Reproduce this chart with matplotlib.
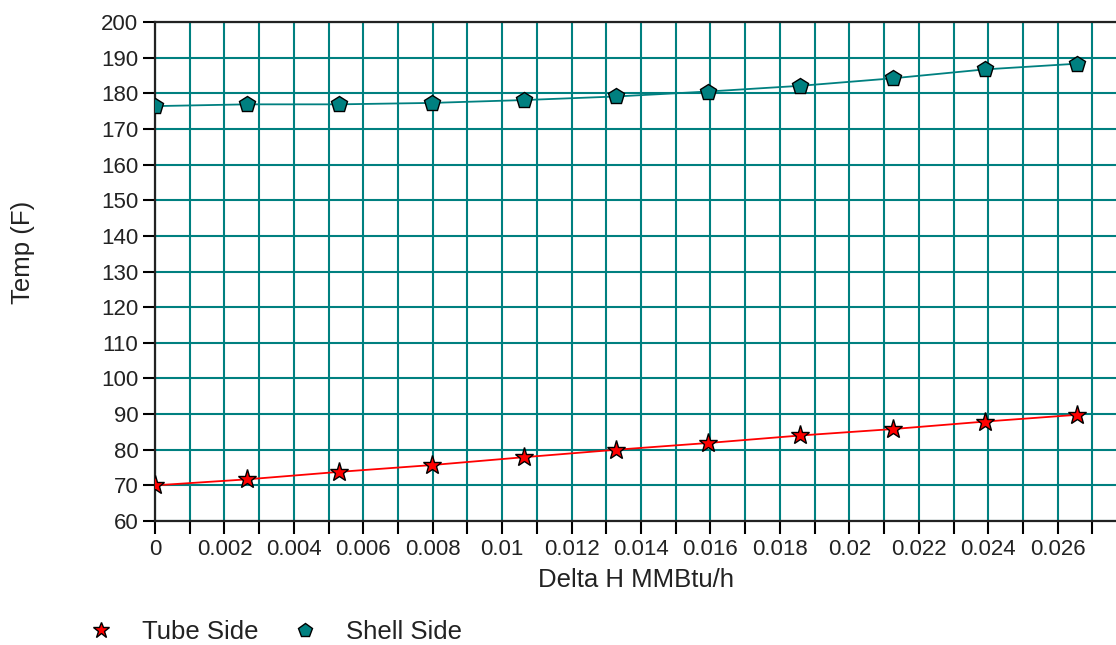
import matplotlib.pyplot as plt
from matplotlib.ticker import MultipleLocator, FuncFormatter
from matplotlib.lines import Line2D

plt.rcParams['font.family'] = ['Liberation Sans', 'DejaVu Sans']

TEAL = "#008080"

# heat duty steps along the exchanger (MMBtu/h)
delta_h = [0.0, 0.00266, 0.00531, 0.00797, 0.01062, 0.01328,
           0.01594, 0.01859, 0.02125, 0.02390, 0.02656]
tube_temp = [70.0, 71.7, 73.8, 75.7, 77.9, 80.0, 81.9, 84.0, 85.8, 87.9, 89.8]
shell_temp = [176.4, 176.9, 176.9, 177.3, 178.1, 179.1, 180.5, 182.1, 184.2, 186.7, 188.3]

x_label = "Delta H MMBtu/h"
y_label = "Temp (F)"
series_names = ["Tube Side", "Shell Side"]


def tick_fmt(v, pos):
    if abs(v) < 1e-12:
        return "0"
    return ("%.3f" % v).rstrip("0")


def main():
    fig = plt.figure(figsize=(11.16, 6.45), dpi=100)
    ax = fig.add_axes([0.1389, 0.1922, 0.8611, 0.7737])

    ax.plot(delta_h, tube_temp, color="#ff0000", lw=1.3, zorder=3)
    ax.plot(delta_h, tube_temp, ls="none", marker="*", ms=14,
            mfc="#ff0000", mec="black", mew=1.0, zorder=4)
    ax.plot(delta_h, shell_temp, color=TEAL, lw=1.3, zorder=3)
    ax.plot(delta_h, shell_temp, ls="none", marker="p", ms=12,
            mfc=TEAL, mec="black", mew=1.0, zorder=4)

    ax.set_xlim(0, 0.02768)
    ax.set_ylim(60, 200)
    ax.xaxis.set_major_locator(MultipleLocator(0.002))
    ax.xaxis.set_minor_locator(MultipleLocator(0.001))
    ax.xaxis.set_major_formatter(FuncFormatter(tick_fmt))
    ax.yaxis.set_major_locator(MultipleLocator(10))

    ax.grid(True, which="both", color=TEAL, lw=1.5, zorder=1)
    ax.set_axisbelow(True)
    ax.tick_params(which="both", direction="out", length=9, width=1.5,
                   color="black", labelsize=16, labelcolor="#222222")
    ax.tick_params(axis="x", pad=4)
    ax.tick_params(axis="y", pad=3)

    for side in ["left", "bottom", "top"]:
        ax.spines[side].set_color("#222222")
        ax.spines[side].set_linewidth(1.6)
    ax.spines["right"].set_visible(False)

    ax.set_xlabel(x_label, fontsize=18.5, color="#222222", labelpad=5.5)
    fig.text(0.021, 0.608, y_label, rotation=90, fontsize=18.5,
             color="#222222", ha="center", va="center")

    handles = [
        Line2D([], [], ls="none", marker="*", ms=12, mfc="#ff0000",
               mec="black", mew=1.0),
        Line2D([], [], ls="none", marker="p", ms=10, mfc=TEAL,
               mec="black", mew=1.0),
    ]
    fig.legend(handles, series_names, loc="center left",
               bbox_to_anchor=(0.070, 0.020), ncol=2, frameon=False,
               fontsize=18.5, handlelength=0.8, handletextpad=1.2,
               columnspacing=1.4, borderpad=0, labelcolor="#222222")

    fig.savefig("out.png", dpi=100)
    plt.close(fig)


if __name__ == "__main__":
    main()
